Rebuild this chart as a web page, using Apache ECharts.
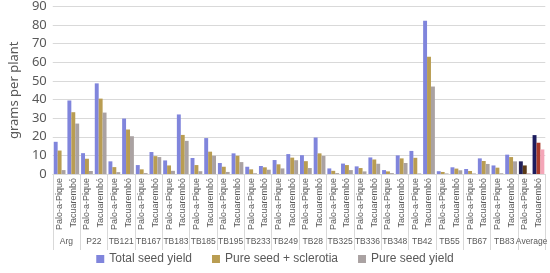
<!DOCTYPE html>
<html>
<head>
<meta charset="utf-8">
<script src="https://cdn.jsdelivr.net/npm/echarts@6/dist/echarts.min.js"></script>
<style>
  html, body { margin: 0; padding: 0; background: #fff; }
  #chart { width: 550px; height: 273px; }
</style>
</head>
<body>
<div id="chart"></div>
<script>
// data
var groups = ['Arg', 'P22', 'TB121', 'TB167', 'TB183', 'TB185', 'TB195', 'TB233', 'TB249',
  'TB28', 'TB325', 'TB336', 'TB348', 'TB42', 'TB55', 'TB67', 'TB83', 'Average'];
var sites = ['Palo-a-Pique', 'Tacuarembó'];
var yTicks = [0, 10, 20, 30, 40, 50, 60, 70, 80, 90];

var totalSeed = [17.3, 39.5, 11.2, 48.7, 6.8, 29.8, 4.8, 11.8, 7.3, 32, 8.6, 19.3, 5.9, 11.1,
  3.9, 4.3, 7.5, 10.7, 10.1, 19.6, 3, 5.6, 4.1, 8.9, 2.1, 10, 12.4, 82.3, 1.5, 3.6, 2.7, 8.4,
  4.6, 10.4, 6.8, 20.9];
var seedSclerotia = [12.6, 33.2, 8.2, 40.5, 3.7, 23.9, 2.5, 9.6, 4.6, 21, 4.8, 12, 3.9, 9.8,
  2.5, 3.6, 5.2, 8.8, 6.9, 11.1, 1.7, 4.8, 3.2, 7.8, 1.4, 8.4, 8.7, 63, 1.1, 2.9, 1.6, 7,
  3.4, 9.1, 4.6, 16.8];
var pureSeed = [2.1, 27.1, 1.6, 33, 1, 20.3, 0.5, 9.1, 1.7, 17.8, 1.5, 9.8, 1.1, 6.4,
  0.4, 2.3, 3, 7.4, 3.2, 9.7, 0.5, 2.1, 1.4, 5.5, 0.5, 5.9, 0.3, 47, 0.3, 2, 0.3, 5.4,
  0.4, 6.8, 0.5, 13.2];

var categories = [];
groups.forEach(function () { categories.push(sites[0], sites[1]); });

var font = 'Liberation Sans';
var grey = '#595959';

// average bars are drawn in darker / other colours
function withAverage(values, avgColors) {
  return values.map(function (v, i) {
    var k = i - (values.length - 2);
    if (k >= 0) return { value: v, itemStyle: { color: avgColors[k] } };
    return v;
  });
}

var chart = echarts.init(document.getElementById('chart'), null, { renderer: 'canvas' });

var option = {
  backgroundColor: '#ffffff',
  animation: false,
  textStyle: { fontFamily: font },
  legend: {
    bottom: 3,
    left: 'center',
    itemWidth: 8,
    itemHeight: 8,
    itemGap: 20,
    icon: 'rect',
    textStyle: { fontSize: 12, color: grey, fontFamily: font },
    data: ['Total seed yield', 'Pure seed + sclerotia', 'Pure seed yield']
  },
  grid: { left: 42, right: 2, top: 6, bottom: 99 },
  xAxis: [{
    type: 'category',
    data: categories,
    axisLine: { lineStyle: { color: '#d9d9d9' } },
    axisTick: { show: false },
    axisLabel: {
      rotate: 90, interval: 0, fontSize: 9, color: grey, margin: 4, fontFamily: font
    }
  }, {
    type: 'category',
    data: groups,
    position: 'bottom',
    offset: 76,
    axisLine: { show: false },
    axisTick: { show: true, inside: true, length: 76, lineStyle: { color: '#d9d9d9' } },
    axisLabel: { inside: true, interval: 0, fontSize: 8.5, color: grey, margin: 4, fontFamily: font }
  }],
  yAxis: {
    type: 'value',
    min: yTicks[0],
    max: yTicks[yTicks.length - 1],
    interval: 10,
    name: 'grams per plant',
    nameLocation: 'middle',
    nameGap: 27,
    nameTextStyle: { fontSize: 13, color: grey, fontFamily: 'Noto Sans' },
    axisLine: { show: false },
    axisTick: { show: false },
    axisLabel: { fontSize: 13, color: grey, margin: 6, fontFamily: 'Noto Sans' },
    splitLine: { lineStyle: { color: '#d9d9d9' } }
  },
  series: [{
    name: 'Total seed yield',
    type: 'bar',
    barGap: '0%',
    barCategoryGap: '14%',
    itemStyle: { color: '#8085dc' },
    data: withAverage(totalSeed, ['#22205a', '#1c1c5e'])
  }, {
    name: 'Pure seed + sclerotia',
    type: 'bar',
    itemStyle: { color: '#b99d52' },
    data: withAverage(seedSclerotia, ['#5c3a16', '#a83a2a'])
  }, {
    name: 'Pure seed yield',
    type: 'bar',
    itemStyle: { color: '#aaa2a2' },
    data: withAverage(pureSeed, ['#d8b4b4', '#f4a6b8'])
  }]
};

chart.setOption(option);
</script>
</body>
</html>
